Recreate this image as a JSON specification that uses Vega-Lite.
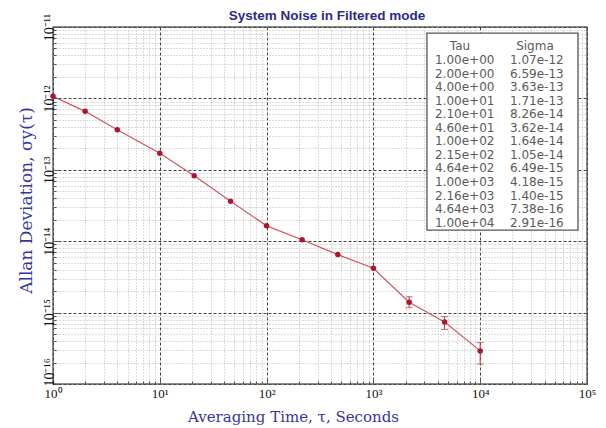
{
  "$schema": "https://vega.github.io/schema/vega-lite/v6.json",
  "width": 534,
  "height": 357,
  "autosize": {"type": "none"},
  "padding": {"left": 53, "top": 27, "right": 19, "bottom": 44},
  "background": "white",
  "title": {"text": "System Noise in Filtered mode", "font": "Liberation Sans", "fontSize": 13.5, "fontWeight": "bold", "color": "#2b2b8c", "anchor": "middle", "offset": -9, "dx": 7},
  "datasets": {
    "adev": [
      {"tau": 1, "sigma": 1.07e-12},
      {"tau": 2, "sigma": 6.59e-13},
      {"tau": 4, "sigma": 3.63e-13},
      {"tau": 10, "sigma": 1.71e-13},
      {"tau": 21, "sigma": 8.26e-14},
      {"tau": 46, "sigma": 3.62e-14},
      {"tau": 100, "sigma": 1.64e-14},
      {"tau": 215, "sigma": 1.05e-14},
      {"tau": 464, "sigma": 6.49e-15},
      {"tau": 1000, "sigma": 4.18e-15},
      {"tau": 2160, "sigma": 1.40e-15},
      {"tau": 4640, "sigma": 7.38e-16},
      {"tau": 10000, "sigma": 2.91e-16}
    ],
    "errs": [
      {"tau": 2160, "lo": 1.17e-15, "hi": 1.67e-15},
      {"tau": 4640, "lo": 5.8e-16, "hi": 8.8e-16},
      {"tau": 10000, "lo": 1.9e-16, "hi": 3.8e-16}
    ],
    "table": [
      {"row": 1, "col": 0, "text": "1.00e+00"}, {"row": 1, "col": 1, "text": "1.07e-12"},
      {"row": 2, "col": 0, "text": "2.00e+00"}, {"row": 2, "col": 1, "text": "6.59e-13"},
      {"row": 3, "col": 0, "text": "4.00e+00"}, {"row": 3, "col": 1, "text": "3.63e-13"},
      {"row": 4, "col": 0, "text": "1.00e+01"}, {"row": 4, "col": 1, "text": "1.71e-13"},
      {"row": 5, "col": 0, "text": "2.10e+01"}, {"row": 5, "col": 1, "text": "8.26e-14"},
      {"row": 6, "col": 0, "text": "4.60e+01"}, {"row": 6, "col": 1, "text": "3.62e-14"},
      {"row": 7, "col": 0, "text": "1.00e+02"}, {"row": 7, "col": 1, "text": "1.64e-14"},
      {"row": 8, "col": 0, "text": "2.15e+02"}, {"row": 8, "col": 1, "text": "1.05e-14"},
      {"row": 9, "col": 0, "text": "4.64e+02"}, {"row": 9, "col": 1, "text": "6.49e-15"},
      {"row": 10, "col": 0, "text": "1.00e+03"}, {"row": 10, "col": 1, "text": "4.18e-15"},
      {"row": 11, "col": 0, "text": "2.16e+03"}, {"row": 11, "col": 1, "text": "1.40e-15"},
      {"row": 12, "col": 0, "text": "4.64e+03"}, {"row": 12, "col": 1, "text": "7.38e-16"},
      {"row": 13, "col": 0, "text": "1.00e+04"}, {"row": 13, "col": 1, "text": "2.91e-16"}
    ],
    "header": [
      {"row": 0, "col": 0, "text": "Tau"},
      {"row": 0, "col": 1, "text": "Sigma"}
    ],
    "box": [
      {"left": -0.107, "right": 1.907, "top": -0.99, "bottom": 13.55}
    ]
  },
  "config": {
    "view": {"stroke": "#666", "strokeWidth": 1.5},
    "axis": {"domain": false, "labelOverlap": false, "labelFlush": false, "grid": true, "gridWidth": 1}
  },
  "layer": [
    {
      "layer": [
        {
          "data": {"name": "adev"},
          "mark": {"type": "line", "color": "#d05560", "strokeWidth": 1.2, "clip": true},
          "encoding": {
            "x": {
              "field": "tau", "type": "quantitative", "title": "Averaging Time, τ, Seconds",
              "scale": {"type": "log", "domain": [1, 100000], "nice": false},
              "axis": {
                "values": [1,2,3,4,5,6,7,8,9,10,20,30,40,50,60,70,80,90,100,200,300,400,500,600,700,800,900,1000,2000,3000,4000,5000,6000,7000,8000,9000,10000,20000,30000,40000,50000,60000,70000,80000,90000,100000],
                "labelExpr": "abs(log(datum.value)/LN10 - round(log(datum.value)/LN10)) < 1e-6 ? '10' + ['⁰','¹','²','³','⁴','⁵'][round(log(datum.value)/LN10)] : ''",
                "gridDash": {"condition": {"test": "abs(log(datum.value)/LN10 - round(log(datum.value)/LN10)) < 1e-6", "value": [3, 2]}, "value": [1, 2]},
                "gridColor": {"condition": {"test": "abs(log(datum.value)/LN10 - round(log(datum.value)/LN10)) < 1e-6", "value": "#444"}, "value": "#b8b8b8"},
                "tickColor": "#555",
                "tickSize": {"condition": {"test": "abs(log(datum.value)/LN10 - round(log(datum.value)/LN10)) < 1e-6", "value": -6}, "value": -3},
                "labelFont": "Liberation Serif", "labelFontSize": 13, "labelColor": "#111", "labelPadding": 9,
                "titleFont": "DejaVu Serif", "titleFontSize": 15, "titleFontWeight": "normal", "titleColor": "#3535a0",
                "titleX": 240, "titleY": 37, "titleAlign": "center", "titleBaseline": "alphabetic", "titleAnchor": "start"
              }
            },
            "y": {
              "field": "sigma", "type": "quantitative", "title": "Allan Deviation, σy(τ)",
              "scale": {"type": "log", "domain": [1e-16, 1e-11], "nice": false},
              "axis": {
                "values": [1e-16,2e-16,3e-16,4e-16,5e-16,6e-16,7e-16,8e-16,9e-16,1e-15,2e-15,3e-15,4e-15,5e-15,6e-15,7e-15,8e-15,9e-15,1e-14,2e-14,3e-14,4e-14,5e-14,6e-14,7e-14,8e-14,9e-14,1e-13,2e-13,3e-13,4e-13,5e-13,6e-13,7e-13,8e-13,9e-13,1e-12,2e-12,3e-12,4e-12,5e-12,6e-12,7e-12,8e-12,9e-12,1e-11],
                "labelExpr": "abs(log(datum.value)/LN10 - round(log(datum.value)/LN10)) < 1e-6 ? '10⁻' + ['¹¹','¹²','¹³','¹⁴','¹⁵','¹⁶'][-round(log(datum.value)/LN10) - 11] : ''",
                "gridDash": {"condition": {"test": "abs(log(datum.value)/LN10 - round(log(datum.value)/LN10)) < 1e-6", "value": [3, 2]}, "value": [1, 2]},
                "gridColor": {"condition": {"test": "abs(log(datum.value)/LN10 - round(log(datum.value)/LN10)) < 1e-6", "value": "#444"}, "value": "#b8b8b8"},
                "tickColor": "#555",
                "tickSize": {"condition": {"test": "abs(log(datum.value)/LN10 - round(log(datum.value)/LN10)) < 1e-6", "value": -6}, "value": -3},
                "labelOffset": {"condition": {"test": "datum.value < 1.5e-16", "value": -12}, "value": 0},
                "labelAngle": -90,
                "labelFont": "Liberation Serif", "labelFontSize": 14, "labelColor": "#111", "labelPadding": 3,
                "titleFont": "DejaVu Serif", "titleFontSize": 17, "titleFontWeight": "normal", "titleColor": "#3535a0",
                "titleX": -27, "titleY": 173, "titleAlign": "center", "titleBaseline": "middle", "titleAngle": -90
              }
            }
          }
        },
        {
          "data": {"name": "errs"},
          "mark": {"type": "errorbar", "color": "#c03535", "ticks": {"size": 7}},
          "encoding": {
            "x": {"field": "tau", "type": "quantitative", "title": "Averaging Time, τ, Seconds"},
            "y": {"field": "lo", "type": "quantitative", "title": "Allan Deviation, σy(τ)"},
            "y2": {"field": "hi"}
          }
        },
        {
          "data": {"name": "adev"},
          "mark": {"type": "point", "filled": true, "color": "#b01530", "size": 30, "opacity": 1},
          "encoding": {
            "x": {"field": "tau", "type": "quantitative", "title": "Averaging Time, τ, Seconds"},
            "y": {"field": "sigma", "type": "quantitative", "title": "Allan Deviation, σy(τ)"}
          }
        }
      ]
    },
    {
      "layer": [
        {
          "data": {"name": "box"},
          "mark": {"type": "rect", "fill": "white", "stroke": "#555", "strokeWidth": 1.3},
          "encoding": {
            "x": {"field": "left", "type": "quantitative", "scale": {"domain": [-5.093, 2.027], "nice": false, "zero": false}, "axis": null},
            "x2": {"field": "right"},
            "y": {"field": "top", "type": "quantitative", "scale": {"domain": [-1.435, 24.91], "nice": false, "zero": false, "reverse": true}, "axis": null},
            "y2": {"field": "bottom"}
          }
        },
        {
          "data": {"name": "table"},
          "mark": {"type": "text", "align": "left", "baseline": "middle", "font": "DejaVu Sans", "fontSize": 12, "color": "#5a5a5a"},
          "encoding": {
            "x": {"field": "col", "type": "quantitative"},
            "y": {"field": "row", "type": "quantitative"},
            "text": {"field": "text"}
          }
        },
        {
          "data": {"name": "header"},
          "mark": {"type": "text", "align": "center", "baseline": "middle", "font": "DejaVu Sans", "fontSize": 12, "color": "#5a5a5a", "dx": 25},
          "encoding": {
            "x": {"field": "col", "type": "quantitative"},
            "y": {"field": "row", "type": "quantitative"},
            "text": {"field": "text"}
          }
        }
      ]
    }
  ],
  "resolve": {"scale": {"x": "independent", "y": "independent"}}
}
